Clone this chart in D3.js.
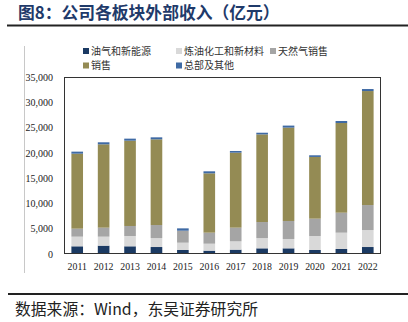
<!DOCTYPE html>
<html><head><meta charset="utf-8">
<script src="https://cdn.jsdelivr.net/npm/d3@7"></script>
<style>body{margin:0;background:#fff}svg{display:block}</style>
</head><body>
<svg id="c" width="408" height="322"></svg>
<script>
const years = ["2011","2012","2013","2014","2015","2016","2017","2018","2019","2020","2021","2022"];
const oilGas   = [1520,1650,1520,1380,790,660,860,1120,1120,790,990,1380];
const refining = [1910,1780,2040,1780,1450,1380,1650,2040,1850,2770,3230,3360];
const gasSales = [1580,1780,1980,2570,2370,2180,2700,3160,3560,3430,3950,4940];
const sales    = [14830,16480,16870,16940,0,11730,14830,17330,18460,12200,17730,22540];
const hqOther  = [400,400,400,400,460,400,330,330,400,330,400,400];
const seriesNames = ["油气和新能源","炼油化工和新材料","天然气销售","销售","总部及其他"];
const yTicks = [0,5000,10000,15000,20000,25000,30000,35000];
const colors = ["#1b3a63","#d9d9d9","#a5a5a5","#948b54","#3f6aa4"];

const seriesVals = [oilGas, refining, gasSales, sales, hqOther];
const rows = years.map((y,i)=>{const o={year:y}; seriesNames.forEach((k,j)=>o[k]=seriesVals[j][i]); return o;});

const svg = d3.select("#c");
const cjk = "'Noto Sans CJK SC', sans-serif";
const serif = "'Liberation Serif','Times New Roman',serif";

// title
svg.append("text").attr("x",18).attr("y",19).attr("font-family",cjk).attr("font-weight","bold")
  .attr("font-size",16.8).attr("fill","#1f3a6a").text("图8：公司各板块外部收入（亿元）");
svg.append("line").attr("x1",7).attr("x2",408).attr("y1",25.5).attr("y2",25.5).attr("stroke","#222").attr("stroke-width",2);
// left grey guide
svg.append("line").attr("x1",24.5).attr("x2",24.5).attr("y1",46).attr("y2",273).attr("stroke","#c8c8c8").attr("stroke-width",1);
// footer
svg.append("line").attr("x1",8).attr("x2",408).attr("y1",294).attr("y2",294).attr("stroke","#222").attr("stroke-width",2);
svg.append("text").attr("x",15).attr("y",315).attr("font-family",cjk).attr("font-size",15.8).attr("fill","#222")
  .text("数据来源：Wind，东吴证券研究所");

const L=64, R=381, T=77, B=254;
const x = d3.scaleBand().domain(years).range([L,R]).paddingInner(0.56).paddingOuter(0.28);
const y = d3.scaleLinear().domain([0,35000]).range([B,T]);

const stack = d3.stack().keys(seriesNames)(rows);
svg.append("g").selectAll("g").data(stack).join("g").attr("fill",(d,i)=>colors[i])
  .selectAll("rect").data(d=>d).join("rect")
  .attr("x",d=>x(d.data.year)).attr("width",x.bandwidth())
  .attr("y",d=>y(d[1])).attr("height",d=>Math.max(0,y(d[0])-y(d[1])));

// frame
svg.append("rect").attr("x",L+0.5).attr("y",T+0.5).attr("width",R-L-1).attr("height",B-T-1)
  .attr("fill","none").attr("stroke","#333").attr("stroke-width",1);

// y axis
const ya = svg.append("g").attr("transform",`translate(${L},0)`)
  .call(d3.axisLeft(y).tickValues(yTicks).tickSize(0).tickPadding(11).tickFormat(d3.format(",")));
ya.select(".domain").remove();
ya.selectAll("text").attr("font-family",serif).attr("font-size",10).attr("fill","#222");

// x axis
const xa = svg.append("g").attr("transform",`translate(0,${B})`)
  .call(d3.axisBottom(x).tickSize(0).tickPadding(9));
xa.select(".domain").remove();
xa.selectAll("text").attr("font-family",serif).attr("font-size",9.8).attr("fill","#222");

// legend
const legPos = [[83,51],[176,51],[270,51],[83,65.5],[176,65.5]];
const lg = svg.append("g");
seriesNames.forEach((n,i)=>{
  const [lx,ly]=legPos[i];
  lg.append("rect").attr("x",lx).attr("y",ly-3).attr("width",6).attr("height",6).attr("fill",colors[i]);
  lg.append("text").attr("x",lx+8).attr("y",ly).attr("dy","0.35em").attr("font-family",cjk)
    .attr("font-size",10).attr("fill","#333").text(n);
});
</script>
</body></html>
